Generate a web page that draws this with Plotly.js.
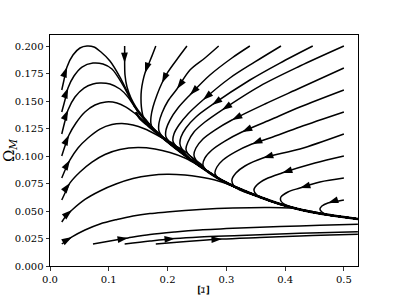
<!DOCTYPE html>
<html><head><meta charset="utf-8">
<script src="https://cdn.plot.ly/plotly-3.0.1.min.js"></script>
<style>html,body{margin:0;padding:0;background:#fff}#chart{width:399px;height:299px}</style>
</head><body><div id="chart"></div>
<script>
// ---- data (x = Xi, y = Omega_M) ----
const bundleX = [0.146,0.153,0.165,0.182,0.209,0.238,0.267,0.294,0.323,0.357,0.391,0.425,0.459,0.493,0.524];
const bundleY = [0.140,0.1341,0.1286,0.1209,0.1091,0.0973,0.0864,0.0773,0.070,0.0627,0.0564,0.0514,0.0477,0.045,0.0427];

const L8x = [0.02,0.0238,0.0289,0.0391,0.051,0.0629,0.0748,0.0867,0.102,0.119,0.1293,0.1378,0.1446,0.1531,0.165];
const L8y = [0.16,0.1691,0.1809,0.1918,0.1982,0.2,0.1991,0.1945,0.1864,0.1718,0.1609,0.1518,0.1445,0.1382,0.1309];
const L7x = [0.02,0.0255,0.0306,0.0408,0.0544,0.0731,0.0901,0.1054,0.1241,0.1378,0.148,0.1582,0.1701];
const L7y = [0.14,0.1509,0.1618,0.1727,0.1809,0.1845,0.1836,0.1791,0.1645,0.1509,0.1418,0.1345,0.1282];
const L6x = [0.02,0.0255,0.0306,0.0425,0.0578,0.0731,0.085,0.102,0.119,0.1327,0.1429,0.1514,0.1616,0.1735];
const L6y = [0.12,0.1318,0.1418,0.1536,0.1618,0.1655,0.1664,0.1655,0.1609,0.1536,0.1455,0.1391,0.1327,0.1264];
const L5x = [0.02,0.0255,0.0323,0.0442,0.0595,0.0765,0.0952,0.1139,0.1293,0.1412,0.1514,0.1633,0.1786];
const L5y = [0.10,0.1091,0.1191,0.13,0.14,0.1464,0.1491,0.1482,0.1445,0.14,0.1355,0.13,0.1236];
const L4x = [0.02,0.0272,0.034,0.0476,0.0646,0.085,0.1054,0.1224,0.1412,0.1616,0.182,0.2007,0.2177];
const L4y = [0.08,0.0891,0.0964,0.1073,0.1164,0.1245,0.1286,0.1295,0.1282,0.1245,0.1191,0.1136,0.1073];
const L3x = [0.02,0.0272,0.034,0.051,0.0714,0.0935,0.119,0.1497,0.1786,0.2041,0.2296,0.2517];
const L3y = [0.06,0.0682,0.0755,0.0855,0.0945,0.1014,0.1059,0.1077,0.1064,0.1032,0.0982,0.0918];
const L2x = [0.02,0.0272,0.0374,0.0595,0.085,0.1122,0.1412,0.1701,0.199,0.2296,0.2551,0.2806,0.3027,0.3265];
const L2y = [0.04,0.0455,0.0509,0.0605,0.0682,0.0745,0.0795,0.0823,0.0834,0.0827,0.0809,0.0782,0.0745,0.0695];
const L1x = [0.02,0.0272,0.0374,0.0595,0.085,0.1139,0.1412,0.1701,0.199,0.2296,0.2551,0.3112,0.369,0.4082,0.4422,0.4677];
const L1y = [0.02,0.0227,0.0264,0.0327,0.0382,0.0423,0.0455,0.0477,0.0491,0.0505,0.0514,0.0527,0.0532,0.0527,0.05,0.0473];

const B1x = [0.0731,0.102,0.1327,0.1701,0.2126,0.2551,0.3231,0.3912,0.4592,0.5238];
const B1y = [0.02,0.0227,0.0255,0.0286,0.0309,0.0327,0.0345,0.0359,0.037,0.0379];
const B2x = [0.127,0.1701,0.2126,0.2551,0.3231,0.3912,0.4592,0.5238];
const B2y = [0.02,0.0227,0.025,0.0264,0.0277,0.0291,0.0302,0.0312];
const B3x = [0.18,0.2211,0.2551,0.2925,0.3571,0.4252,0.4762,0.5238];
const B3y = [0.02,0.0218,0.0232,0.0245,0.0259,0.0273,0.0282,0.0288];

const T1x = [0.127,0.127,0.127,0.1276,0.131,0.1378,0.1463,0.1548,0.165];
const T1y = [0.2,0.1918,0.1845,0.1736,0.1627,0.1527,0.1445,0.1382,0.1318];
const T2x = [0.18,0.1735,0.1665,0.1616,0.158,0.1555,0.1548,0.1555,0.1582,0.165,0.1752];
const T2y = [0.2,0.191,0.1818,0.1755,0.168,0.16,0.1527,0.1445,0.1364,0.13,0.1255];
const T3x = [0.233,0.2177,0.2007,0.1905,0.182,0.1752,0.1718,0.1718,0.1752,0.182];
const T3y = [0.2,0.1891,0.1764,0.1664,0.1555,0.1445,0.1355,0.1291,0.1245,0.1209];
const T4x = [0.287,0.2636,0.2381,0.216,0.2007,0.1905,0.1854,0.1854,0.1905,0.199];
const T4y = [0.2,0.1891,0.1782,0.1609,0.15,0.1391,0.13,0.1227,0.1182,0.1145];
const T5x = [0.34,0.3095,0.2721,0.2381,0.2177,0.2041,0.1973,0.1973,0.2024,0.2109];
const T5y = [0.2,0.1891,0.1736,0.1555,0.1436,0.1327,0.1236,0.1173,0.1136,0.1109];
const T6x = [0.393,0.3486,0.3061,0.2602,0.2347,0.2194,0.2109,0.2092,0.2143,0.2228];
const T6y = [0.2,0.1855,0.1709,0.1509,0.1382,0.1282,0.12,0.1136,0.1091,0.1064];
const T7x = [0.447,0.3912,0.3401,0.2755,0.2483,0.2313,0.2228,0.2211,0.2245,0.233];
const T7y = [0.2,0.1845,0.1691,0.1464,0.1355,0.1255,0.1173,0.1109,0.1064,0.1027];
const T8x = [0.5,0.4252,0.3571,0.2925,0.2636,0.2449,0.2347,0.2313,0.2347,0.2432];
const T8y = [0.2,0.1818,0.1636,0.1418,0.1309,0.1218,0.1127,0.1064,0.1018,0.0982];

const R18x = [0.5,0.4252,0.3656,0.3095,0.2806,0.2602,0.2483,0.2449,0.2483,0.2568];
const R18y = [0.18,0.1618,0.1473,0.1327,0.1236,0.1155,0.1073,0.1009,0.0964,0.0927];
const R16x = [0.5,0.4252,0.3741,0.3265,0.2976,0.2755,0.2636,0.2602,0.2653,0.2755];
const R16y = [0.16,0.1445,0.1327,0.1218,0.1136,0.1055,0.0982,0.0918,0.0873,0.0836];
const R14x = [0.5,0.4252,0.3741,0.3435,0.3146,0.2942,0.284,0.2806,0.2857,0.2976];
const R14y = [0.14,0.1264,0.1164,0.1109,0.1036,0.0964,0.09,0.0845,0.08,0.0755];
const R12x = [0.5,0.4252,0.3622,0.3316,0.3163,0.3095,0.3129,0.3231];
const R12y = [0.12,0.1064,0.0982,0.0909,0.0845,0.0782,0.0727,0.0691];
const R10x = [0.5,0.4507,0.3946,0.3673,0.352,0.3469,0.352,0.3673];
const R10y = [0.10,0.0936,0.0845,0.0791,0.0736,0.0691,0.0645,0.0605];
const R08x = [0.5,0.4592,0.4252,0.4048,0.3929,0.3929,0.4031];
const R08y = [0.08,0.0764,0.0709,0.0673,0.0627,0.0591,0.055];
const R06x = [0.5,0.4864,0.4728,0.4626,0.4592,0.4626,0.4728];
const R06y = [0.06,0.0586,0.0573,0.0545,0.0518,0.0491,0.0464];

// curves: [x, y, index of the point carrying the arrow, joins the attracting bundle?]
const curves = [
  [L8x,L8y,2,true],[L7x,L7y,2,true],[L6x,L6y,2,true],[L5x,L5y,2,true],
  [L4x,L4y,2,true],[L3x,L3y,2,true],[L2x,L2y,2,true],[L1x,L1y,2,true],
  [B1x,B1y,2,false],[B2x,B2y,2,false],[B3x,B3y,3,false],
  [T1x,T1y,2,true],[T2x,T2y,3,true],[T3x,T3y,3,true],[T4x,T4y,3,true],
  [T5x,T5y,3,true],[T6x,T6y,3,true],[T7x,T7y,3,true],[T8x,T8y,3,true],
  [R18x,R18y,3,true],[R16x,R16y,3,true],[R14x,R14y,3,true],[R12x,R12y,2,true],
  [R10x,R10y,2,true],[R08x,R08y,2,true],[R06x,R06y,2,true]
];

const xTicks = [0,0.1,0.2,0.3,0.4,0.5];
const xTickText = ['0.0','0.1','0.2','0.3','0.4','0.5'];
const yTicks = [0,0.025,0.05,0.075,0.1,0.125,0.15,0.175,0.2];
const yTickText = ['0.000','0.025','0.050','0.075','0.100','0.125','0.150','0.175','0.200'];

// ---- layout geometry ----
const W = 399, H = 299, M = {l:50, r:41, t:35, b:33};
const xr = [0, 0.524], yr = [0, 0.21];
const sx = (W - M.l - M.r) / (xr[1] - xr[0]);
const sy = (H - M.t - M.b) / (yr[1] - yr[0]);

const traces = [];
const arrX = [], arrY = [], arrAng = [];
curves.forEach(([xs, ys, ai, joins]) => {
  let X = xs.slice(), Y = ys.slice();
  if (joins) {
    const last = X[X.length - 1];
    bundleX.forEach((bx, k) => { if (bx > last + 0.008) { X.push(bx); Y.push(bundleY[k]); } });
  }
  traces.push({x: X, y: Y, mode: 'lines', line: {color: '#000', width: 1.5, shape: 'spline', smoothing: 0.9},
               hoverinfo: 'skip', showlegend: false});
  const j0 = Math.max(ai - 1, 0), j1 = Math.min(ai + 1, xs.length - 1);
  const dx = (xs[j1] - xs[j0]) * sx, dy = (ys[j1] - ys[j0]) * sy;
  arrX.push(xs[ai]); arrY.push(ys[ai]);
  arrAng.push(Math.atan2(dx, dy) * 180 / Math.PI);
});
traces.push({x: bundleX, y: bundleY, mode: 'lines', line: {color: '#000', width: 2.6, shape: 'spline'},
             hoverinfo: 'skip', showlegend: false});
traces.push({x: arrX, y: arrY, mode: 'markers', hoverinfo: 'skip', showlegend: false,
             marker: {symbol: 'arrow', size: 11, angle: arrAng, color: '#000', line: {width: 0}}});

const anns = [];
anns.push({xref: 'paper', yref: 'paper', x: 0.5, y: -0.105, text: 'Ξ', showarrow: false, textangle: -90,
           xanchor: 'center', yanchor: 'middle', font: {family: 'DejaVu Serif', size: 15, color: '#000'}});

const axisCommon = {showgrid: false, zeroline: false, showline: true, mirror: true, linecolor: '#000', linewidth: 1,
  ticks: 'outside', ticklen: 3.5, tickwidth: 0.8, tickcolor: '#000',
  tickfont: {family: 'DejaVu Serif', size: 10, color: '#000'}, fixedrange: true};

const layout = {
  width: W, height: H, margin: M, paper_bgcolor: '#fff', plot_bgcolor: '#fff', showlegend: false,
  xaxis: Object.assign({}, axisCommon, {range: xr, tickvals: xTicks, ticktext: xTickText}),
  yaxis: Object.assign({}, axisCommon, {range: yr, tickvals: yTicks, ticktext: yTickText,
         title: {text: 'Ω<sub><i>M</i></sub>', standoff: 2, font: {family: 'DejaVu Serif', size: 15, color: '#000'}}}),
  annotations: anns
};
Plotly.newPlot('chart', traces, layout, {displayModeBar: false, staticPlot: true});
</script></body></html>
